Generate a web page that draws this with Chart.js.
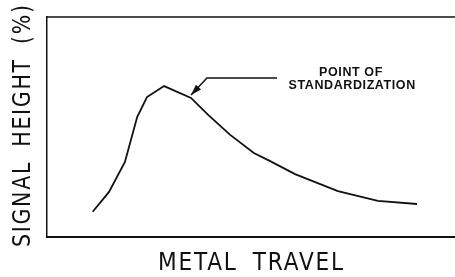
<!DOCTYPE html>
<html><head><meta charset="utf-8">
<script src="https://cdn.jsdelivr.net/npm/chart.js@4"></script>
<style>html,body{margin:0;padding:0;background:#fff}#wrap{width:455px;height:277px}</style>
</head><body><div id="wrap"><canvas id="c" width="455" height="277"></canvas></div>
<script>
const travel = [11.2, 15.2, 19.1, 22.1, 24.5, 28.7, 35.3, 39.5, 44.9, 50.7, 54.7, 60.8, 71.3, 81.1, 90.7];
const signal = [11.5, 20.5, 34.1, 54.5, 63.6, 68.6, 63.2, 55.5, 46.4, 38.2, 34.5, 28.6, 20.9, 16.4, 15.0];
const xTitle = "METAL TRAVEL";
const yTitle = "SIGNAL HEIGHT (%)";
const noteLines = ["POINT OF", "STANDARDIZATION"];
const arrowPath = [[56.4, 72.3], [39.2, 72.3], [35.3, 64.5]];
const noteAt = [[74.5, 74.6], [74.8, 68.7]];

const points = travel.map((x, i) => ({x, y: signal[i]}));

const deco = {
  id: 'deco',
  afterDraw(chart) {
    const {ctx, chartArea: a, scales: {x, y}} = chart;
    ctx.save();
    ctx.strokeStyle = '#111'; ctx.lineWidth = 1.5;
    ctx.beginPath(); ctx.moveTo(a.left, a.top); ctx.lineTo(a.right, a.top); ctx.stroke();
    const P = arrowPath.map(p => [x.getPixelForValue(p[0]), y.getPixelForValue(p[1])]);
    ctx.lineWidth = 1.5;
    ctx.beginPath(); ctx.moveTo(P[0][0], P[0][1]);
    for (let i = 1; i < P.length; i++) ctx.lineTo(P[i][0], P[i][1]);
    ctx.stroke();
    const [tx, ty] = P[P.length - 1], [sx, sy] = P[P.length - 2];
    const ang = Math.atan2(ty - sy, tx - sx), L = 11, W = 3.5;
    ctx.fillStyle = '#111';
    ctx.beginPath();
    ctx.moveTo(tx, ty);
    ctx.lineTo(tx - L * Math.cos(ang) + W * Math.sin(ang), ty - L * Math.sin(ang) - W * Math.cos(ang));
    ctx.lineTo(tx - L * Math.cos(ang) - W * Math.sin(ang), ty - L * Math.sin(ang) + W * Math.cos(ang));
    ctx.closePath(); ctx.fill();
    ctx.font = 'bold 12.5px "Liberation Sans", Arial, sans-serif';
    ctx.letterSpacing = '0.6px';
    ctx.textAlign = 'center'; ctx.textBaseline = 'middle';
    noteLines.forEach((t, i) => {
      ctx.fillText(t, x.getPixelForValue(noteAt[i][0]), y.getPixelForValue(noteAt[i][1]));
    });
    ctx.font = '24px "DejaVu Sans", sans-serif';
    ctx.letterSpacing = '2px';
    ctx.wordSpacing = '7px';
    ctx.textBaseline = 'alphabetic';
    const drawTitle = (t, cx, cy, rot, targetW, base) => {
      const w = ctx.measureText(t).width - 2;
      ctx.save();
      ctx.translate(cx, cy); ctx.rotate(rot);
      ctx.scale(targetW / w, 1);
      ctx.textAlign = 'left';
      ctx.fillText(t, -w / 2, base);
      ctx.restore();
    };
    drawTitle(xTitle, 250.5, 262, 0, 185, 8);
    drawTitle(yTitle, 21, 126, -Math.PI / 2, 242, 8.5);
    ctx.restore();
  }
};

new Chart(document.getElementById('c'), {
  type: 'line',
  data: { datasets: [{ data: points, borderColor: '#111', borderWidth: 1.8, pointRadius: 0, tension: 0, fill: false }] },
  options: {
    responsive: false, animation: false,
    layout: { padding: { left: 47, top: 17, bottom: 40, right: 0 } },
    plugins: { legend: { display: false }, tooltip: { enabled: false } },
    scales: {
      x: { type: 'linear', min: 0, max: 100, ticks: { display: false }, grid: { display: false, drawTicks: false }, border: { display: true, color: '#111', width: 2 } },
      y: { type: 'linear', min: 0, max: 100, ticks: { display: false }, grid: { display: false, drawTicks: false }, border: { display: true, color: '#111', width: 1.5 } }
    }
  },
  plugins: [deco]
});
</script></body></html>
